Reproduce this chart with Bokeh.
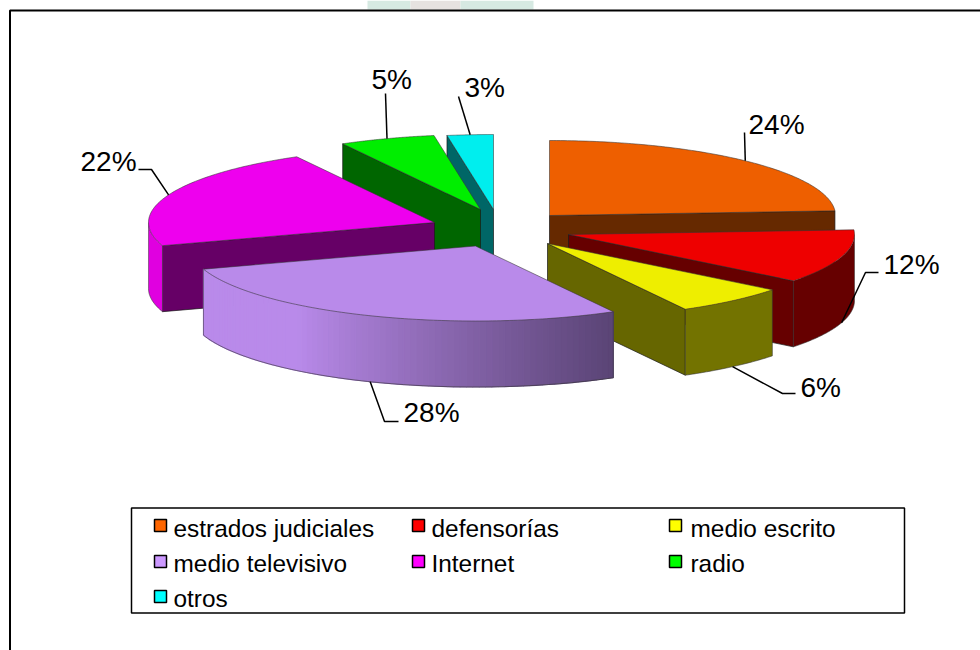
import numpy as np
from bokeh.plotting import figure
from bokeh.embed import file_html
from bokeh.resources import INLINE
from bokeh.core.properties import value

# --- data
categories = ["estrados judiciales", "defensorías", "medio escrito", "medio televisivo", "Internet", "radio", "otros"]
shares = [24.0, 11.6, 6.4, 28.0, 22.0, 5.4, 2.6]
labels = ["24%", "12%", "6%", "28%", "22%", "5%", "3%"]

# --- styles
legend_colors = ["#FF6600", "#FF0000", "#FFFF00", "#CC99FF", "#FF00FF", "#00FF00", "#00FFFF"]
top_colors = ["#EE5F00", "#EE0000", "#EEEE00", "#B98AEA", "#EE00EE", "#00EE00", "#00EEEE"]
wall_colors = ["#662900", "#660000", "#666600", "#5A4475", "#660066", "#006600", "#006666"]
outer_colors = ["#662900", "#660000", "#737300", None, "#E000E0", "#006600", "#006666"]

# --- layout (pixels of the page)
RX, RY, DEPTH = 286.0, 75.0, 66.0
apex_x = [549, 568, 547, 475, 434, 480, 493]
apex_y = [215, 234, 243, 245.5, 222, 209, 209]
draw_order = [0, 1, 2, 6, 5, 4, 3]
label_x = [748, 883, 800, 403, 80, 371, 464]
label_base = [133, 273, 396, 421, 170, 88, 96]
elbow_pts = [[(744, 132)], [(878, 272), (865, 272)], [(795, 393), (782, 393)], [(398, 421), (384, 421)],
             [(138, 169), (151, 169)], [(385, 93)], [(458, 96)]]
legend_x = [154, 412, 669]
legend_text_x = [173, 431, 690]
legend_row_y = [519, 555, 590]
legend_base_y = [537, 572, 607]
FONT = "Liberation Sans"
W, H = 980, 650
LABEL_SIZE, LEGEND_SIZE = 28.0, 24.4

p = figure(width=W, height=H, x_range=(0, W), y_range=(H, 0), output_backend="svg",
           toolbar_location=None, min_border=0, outline_line_color=None, background_fill_color="white")
p.axis.visible = False
p.grid.visible = False

# watermark remnant above the frame and the frame itself
p.quad(left=[367, 410, 460], right=[410, 460, 533], top=[0, 0, 0], bottom=[9, 9, 9],
       color=["#D6E9E2", "#E6E2E0", "#D6E9E2"], line_color=None)
p.line([W, 9.5, 9.5], [10, 10, H], line_color="black", line_width=2)

edges = np.radians(np.concatenate([[0], np.cumsum(shares)]) * 3.6)


def point(i, t):
    return apex_x[i] + RX * np.sin(t), apex_y[i] - RY * np.cos(t)


def mix(a, b, f):
    ca = [int(a[k:k + 2], 16) for k in (1, 3, 5)]
    cb = [int(b[k:k + 2], 16) for k in (1, 3, 5)]
    return "#%02X%02X%02X" % tuple(int(round(x + (y - x) * f)) for x, y in zip(ca, cb))


def radial_wall(i, t):
    x, y = point(i, t)
    ax, ay = apex_x[i], apex_y[i]
    p.patch([ax, x, x, ax], [ay, y, y + DEPTH, ay + DEPTH], fill_color=wall_colors[i],
            line_color="#1A1A1A", line_alpha=0.7, line_width=1)


for i in draw_order:
    t0, t1 = edges[i], edges[i + 1]
    # radial walls facing the viewer
    if np.sin(t0) < -1e-6:
        radial_wall(i, t0)
    if np.sin(t1) > 1e-6:
        radial_wall(i, t1)
    # outer wall, front half only
    a0, a1 = max(t0, np.pi / 2), min(t1, 3 * np.pi / 2)
    if a1 > a0:
        ts = np.linspace(a0, a1, 80)
        xs, ys = point(i, ts)
        if outer_colors[i] is None:
            lo, hi = xs.min(), xs.max()
            for k in range(len(ts) - 1):
                f = max(0.0, ((xs[k] + xs[k + 1]) / 2 - 297) / (hi - 297))
                c = mix(top_colors[i], wall_colors[i], f ** 0.9)
                p.patch([xs[k], xs[k + 1], xs[k + 1], xs[k]],
                        [ys[k], ys[k + 1], ys[k + 1] + DEPTH, ys[k] + DEPTH],
                        fill_color=c, line_color=c, line_width=1.2)
        else:
            p.patch(list(xs) + list(xs[::-1]), list(ys) + list(ys[::-1] + DEPTH),
                    fill_color=outer_colors[i], line_color=None)
        p.line(xs, ys + DEPTH, line_color="#333333", line_alpha=0.6, line_width=1)
        p.line([xs[0], xs[0]], [ys[0], ys[0] + DEPTH], line_color="#333333", line_alpha=0.5, line_width=1)
        p.line([xs[-1], xs[-1]], [ys[-1], ys[-1] + DEPTH], line_color="#333333", line_alpha=0.5, line_width=1)
    # top surface
    ts = np.linspace(t0, t1, 120)
    xs, ys = point(i, ts)
    p.patch([apex_x[i]] + list(xs), [apex_y[i]] + list(ys), fill_color=top_colors[i],
            line_color="#333333", line_alpha=0.55, line_width=1)

# leader lines, ending on the middle of each slice's rim
for i, elbow in enumerate(elbow_pts):
    tm = (edges[i] + edges[i + 1]) / 2
    ex, ey = point(i, tm)
    if np.cos(tm) < 0:
        ey += DEPTH
    lx = [q[0] for q in elbow] + [ex]
    ly = [q[1] for q in elbow] + [ey]
    p.line(lx, ly, line_color="black", line_width=1.5)

p.text(x=label_x, y=[b - 0.31 * LABEL_SIZE for b in label_base], text=labels, text_font=value(FONT),
       text_font_size=f"{LABEL_SIZE}px", text_color="black", text_baseline="middle", text_align="left")

# legend
p.quad(left=[131], right=[904], top=[507.5], bottom=[612.5], fill_color="white", line_color="black", line_width=1.5)
for i, name in enumerate(categories):
    r, c = divmod(i, 3)
    p.quad(left=[legend_x[c]], right=[legend_x[c] + 12], top=[legend_row_y[r]], bottom=[legend_row_y[r] + 12],
           fill_color=legend_colors[i], line_color="black", line_width=1.5)
    p.text(x=[legend_text_x[c]], y=[legend_base_y[r] - 0.35 * LEGEND_SIZE], text=[name], text_font=value(FONT),
           text_font_size=f"{LEGEND_SIZE}px", text_color="black", text_baseline="middle", text_align="left")

open("out.html", "w").write(file_html(p, INLINE))
